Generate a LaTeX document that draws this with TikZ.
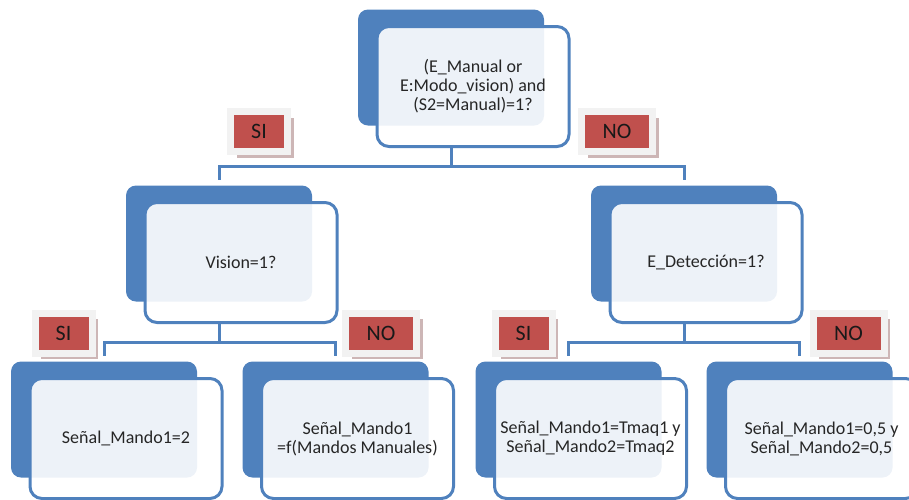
\documentclass[tikz,border=0pt]{standalone}
\usepackage{fontspec}
\setmainfont{Carlito}
\usetikzlibrary{calc,positioning,shadows}
\definecolor{azul}{HTML}{4F81BD}
\definecolor{rojo}{HTML}{C0504D}
\definecolor{marco}{HTML}{F2F2F2}
\definecolor{sombra}{HTML}{CDB6B6}

\begin{document}
\begin{tikzpicture}[x=1pt, y=-1pt,
  fondo/.style={fill=azul, rounded corners=10pt, minimum width=186pt, minimum height=116pt, inner sep=0pt},
  caja/.style={draw=azul, line width=3pt, fill=white, fill opacity=0.9, text opacity=1, rounded corners=12pt,
    minimum width=192pt, minimum height=120pt, align=center, text=black!85, font=\fontsize{18}{19}\selectfont},
  etiqueta/.style={fill=rojo, draw=marco, line width=7pt, inner sep=0pt, minimum height=40pt, text=black!90,
    font=\fontsize{22}{22}\selectfont, drop shadow={shadow xshift=6pt, shadow yshift=-6pt, fill=sombra, opacity=1}},
  conector/.style={draw=azul, line width=3pt, shorten >=5pt}]
\path[use as bounding box] (0,0) rectangle (909,499);
\clip (0,0) rectangle (909,499);
% Pregunta principal
\node[fondo] (q0f) at (451,67.5) {};
\node[caja] (q0) at ([shift={(22,19)}]q0f) {(E\_Manual or\\E:Modo\_vision) and\\(S2=Manual)=1?};
% Segundo nivel
\node[fondo] (q1f) at (219,243.5) {};
\node[caja] (q1) at ([shift={(22,19)}]q1f) {Vision=1?};
\node[fondo] (q2f) at (684,243.5) {};
\node[caja] (q2) at ([shift={(22,19)}]q2f) {E\_Detección=1?};
% Salidas
\node[fondo] (h1f) at (104,419.5) {};
\node[caja] (h1) at ([shift={(22,19)}]h1f) {Señal\_Mando1=2};
\node[fondo] (h2f) at (335.5,419.5) {};
\node[caja] (h2) at ([shift={(22,19)}]h2f) {Señal\_Mando1\\=f(Mandos Manuales)};
\node[fondo] (h3f) at (568.5,419.5) {};
\node[caja] (h3) at ([shift={(22,19)}]h3f) {Señal\_Mando1=Tmaq1 y\\Señal\_Mando2=Tmaq2};
\node[fondo] (h4f) at (799.5,419.5) {};
\node[caja] (h4) at ([shift={(22,19)}]h4f) {Señal\_Mando1=0,5 y\\Señal\_Mando2=0,5};
% Conectores
\coordinate (j0) at ($(q0f.center |- q0.south)!0.5!(q0f.center |- q1f.north)$);
\coordinate (j1) at ($(q1f.center |- q1.south)!0.5!(q1f.center |- h1f.north)$);
\coordinate (j2) at ($(q2f.center |- q2.south)!0.5!(q2f.center |- h3f.north)$);
\draw[conector] (q0f.center |- q0.south) -- (j0) -| (q1f.north);
\draw[conector] (j0) -| (q2f.north);
\draw[conector] (q1f.center |- q1.south) -- (j1) -| (h1f.north);
\draw[conector] (j1) -| (h2f.north);
\draw[conector] (q2f.center |- q2.south) -- (j2) -| (h3f.north);
\draw[conector] (j2) -| (h4f.north);
% Etiquetas
\node[etiqueta, minimum width=57pt] (si0) at (259,131.5) {SI};
\node[etiqueta, minimum width=71pt] (no0) at (617,131.5) {NO};
\node[etiqueta, minimum width=57pt] (si1) at (63.5,333) {SI};
\node[etiqueta, minimum width=71pt] (no1) at (381,333) {NO};
\node[etiqueta, minimum width=57pt] (si2) at (523.5,333) {SI};
\node[etiqueta, minimum width=71pt] (no2) at (848.5,333) {NO};
\end{tikzpicture}
\end{document}
